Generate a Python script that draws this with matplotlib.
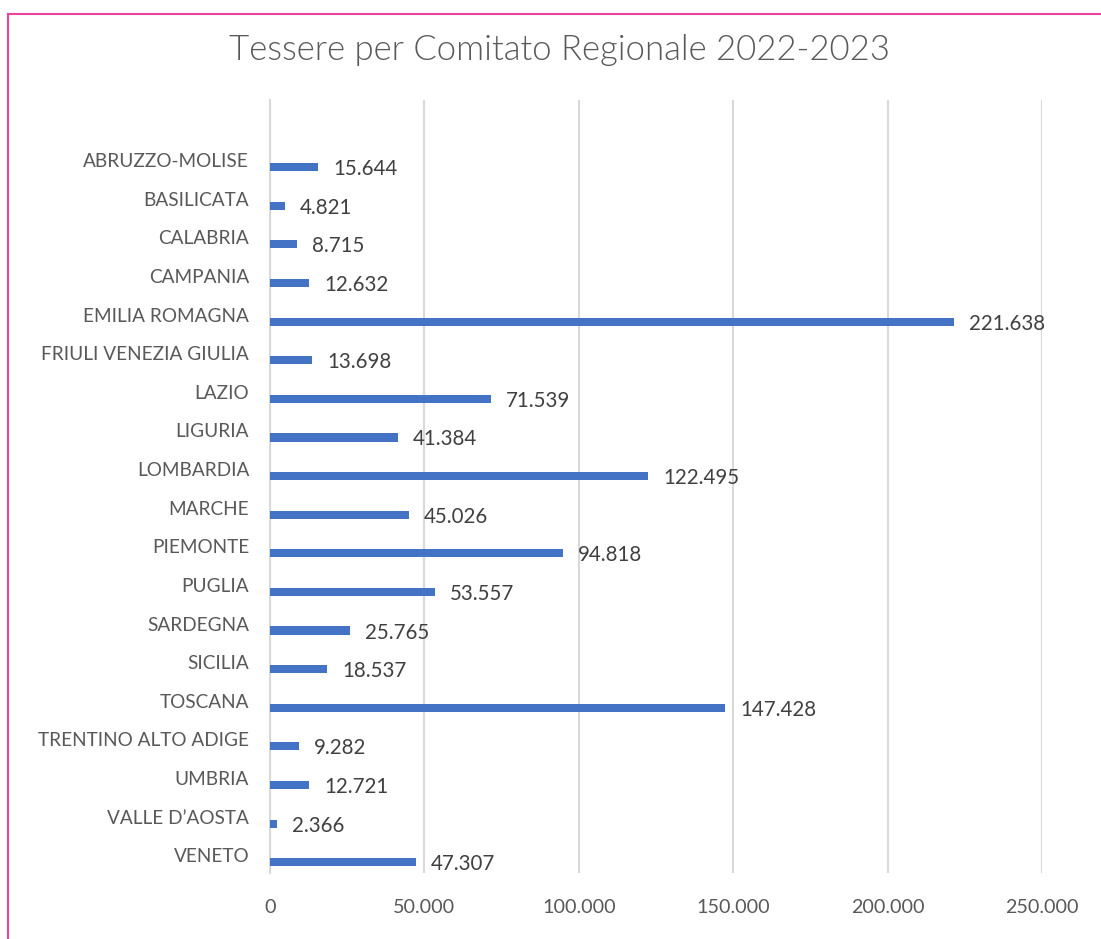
import matplotlib

matplotlib.use("Agg")
import matplotlib.pyplot as plt
from matplotlib.lines import Line2D
from matplotlib.ticker import FuncFormatter
from matplotlib.transforms import ScaledTranslation

regions = [
    "ABRUZZO-MOLISE",
    "BASILICATA",
    "CALABRIA",
    "CAMPANIA",
    "EMILIA ROMAGNA",
    "FRIULI VENEZIA GIULIA",
    "LAZIO",
    "LIGURIA",
    "LOMBARDIA",
    "MARCHE",
    "PIEMONTE",
    "PUGLIA",
    "SARDEGNA",
    "SICILIA",
    "TOSCANA",
    "TRENTINO ALTO ADIGE",
    "UMBRIA",
    "VALLE D\u2019AOSTA",
    "VENETO",
]
tessere = [
    15644, 4821, 8715, 12632, 221638, 13698, 71539, 41384, 122495, 45026,
    94818, 53557, 25765, 18537, 147428, 9282, 12721, 2366, 47307,
]
x_ticks = [0, 50000, 100000, 150000, 200000, 250000]

BAR = "#4472C4"
GRID = "#D9D9D9"
LABEL = "#595959"
VALUE = "#404040"
FRAME = "#E8449A"
FONT = ["Lato", "DejaVu Sans"]


def thousands(v, _pos=None):
    return f"{int(v):,}".replace(",", ".")


fig = plt.figure(figsize=(11.01, 9.39), dpi=100)
ax = fig.add_axes([270 / 1101, 1 - 873 / 939, 772 / 1101, 773 / 939])

ypos = list(range(len(regions)))
ax.barh(ypos, tessere, height=0.21, color=BAR, zorder=3)

for y, v in zip(ypos, tessere):
    ax.annotate(
        thousands(v),
        xy=(v, y),
        xytext=(15, -2),
        textcoords="offset pixels",
        ha="left",
        va="center",
        fontsize=14.8,
        color=VALUE,
        family=FONT,
    )

ax.set_xlim(0, 250000)
ax.set_ylim(len(regions) - 1 + 0.28, -1.74)
ax.set_xticks(x_ticks)
ax.xaxis.set_major_formatter(FuncFormatter(thousands))
ax.set_yticks(ypos)
ax.set_yticklabels(regions)
ax.tick_params(axis="both", length=0, colors=LABEL)
ax.tick_params(axis="y", pad=15, labelsize=13.7)
ax.tick_params(axis="x", pad=19, labelsize=14.2)
for lab in ax.get_yticklabels() + ax.get_xticklabels():
    lab.set_family(FONT)
shift = ScaledTranslation(0, 0.07, fig.dpi_scale_trans)
for lab in ax.get_yticklabels():
    lab.set_transform(lab.get_transform() + shift)

ax.grid(True, axis="x", color=GRID, linewidth=1.5, zorder=0)
for side in ["top", "right", "bottom"]:
    ax.spines[side].set_visible(False)
ax.spines["left"].set_color(GRID)
ax.spines["left"].set_linewidth(1.5)

fig.text(
    0.508,
    1 - 50 / 939,
    "Tessere per Comitato Regionale 2022-2023",
    ha="center",
    va="center",
    fontsize=25,
    color=LABEL,
    family=FONT,
    fontweight=300,
)

# pink frame along the top and left edges
fig.add_artist(Line2D([8 / 1101, 1.0], [1 - 14 / 939] * 2, color=FRAME, linewidth=1.5))
fig.add_artist(Line2D([8 / 1101] * 2, [0.0, 1 - 14 / 939], color=FRAME, linewidth=1.5))

fig.savefig("out.png", dpi=100)
